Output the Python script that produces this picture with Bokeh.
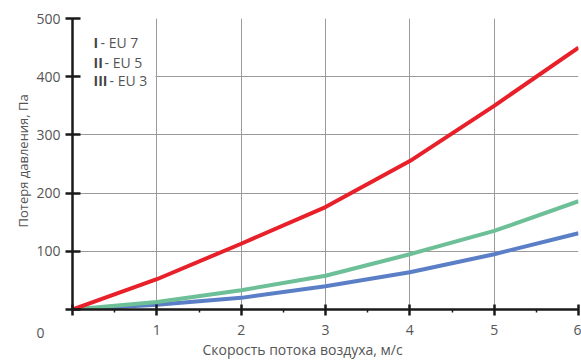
from bokeh.plotting import figure
from bokeh.models import Range1d, Label, BoxAnnotation, FixedTicker, Title
from bokeh.embed import file_html
from bokeh.resources import INLINE

speed = [0, 1, 2, 3, 4, 5, 6]
eu7 = [0, 52, 113, 176, 255, 350, 450]
eu5 = [0, 13, 33, 58, 95, 135, 186]
eu3 = [0, 8, 20, 40, 64, 95, 131]

legend_num = ["I", "II", "III"]
legend_txt = ["- EU 7", "- EU 5", "- EU 3"]
x_ticks = [0, 1, 2, 3, 4, 5, 6]
y_ticks = [0, 100, 200, 300, 400, 500]
origin_label = "0"
x_title = "Скорость потока воздуха, м/с"
y_title = "Потеря давления, Па"

FONT = "Open Sans"
GRAY = "#555555"

p = figure(width=581, height=360, output_backend="svg", toolbar_location=None,
           x_range=Range1d(0, 6), y_range=Range1d(0, 500),
           min_border_left=72, min_border_right=3, min_border_top=18, min_border_bottom=51)
p.outline_line_color = None
p.background_fill_color = "white"

p.xgrid.ticker = FixedTicker(ticks=x_ticks)
p.ygrid.ticker = FixedTicker(ticks=y_ticks)
p.xgrid.grid_line_color = "#9a9a9a"
p.ygrid.grid_line_color = "#9a9a9a"
p.xgrid.grid_line_width = 1
p.ygrid.grid_line_width = 1

for ax in (p.xaxis[0], p.yaxis[0]):
    ax.axis_line_color = "#1a1a1a"
    ax.axis_line_width = 2.5
    ax.major_tick_line_color = "#1a1a1a"
    ax.major_tick_line_width = 2.5
    ax.major_label_text_font = FONT
    ax.major_label_text_font_size = "14px"
    ax.major_label_text_color = GRAY

p.xaxis.ticker = FixedTicker(ticks=x_ticks, minor_ticks=[0.5, 1.5, 2.5, 3.5, 4.5, 5.5])
p.yaxis.ticker = FixedTicker(ticks=y_ticks)
p.xaxis.major_label_overrides = {0: ""}
p.yaxis.major_label_overrides = {0: ""}
p.xaxis.major_tick_in = 5
p.xaxis.major_tick_out = 6
p.xaxis.minor_tick_in = 0
p.xaxis.minor_tick_out = 3
p.xaxis.minor_tick_line_color = "#1a1a1a"
p.xaxis.minor_tick_line_width = 1.5
p.yaxis.major_tick_in = 8
p.yaxis.major_tick_out = 7
p.yaxis.minor_tick_line_color = None
p.xaxis.major_label_standoff = 9
p.yaxis.major_label_standoff = 5

p.add_layout(BoxAnnotation(left=0.02, right=0.985, bottom=330, top=497,
                           fill_color="white", fill_alpha=1.0, line_color=None, level="underlay"))

p.line(speed, eu3, line_color="#5b7fc6", line_width=4, line_join="round")
p.line(speed, eu5, line_color="#6dbf98", line_width=4, line_join="round")
p.line(speed, eu7, line_color="#e8202a", line_width=4, line_join="round")

ys = [458, 425, 393]
offs = [28, 32, 37]
for num, txt, yv, off in zip(legend_num, legend_txt, ys, offs):
    p.add_layout(Label(x=0, y=yv, x_offset=21, text=num, text_font=FONT,
                       text_font_size="14px", text_font_style="bold", text_color="#444444",
                       text_baseline="middle"))
    p.add_layout(Label(x=0, y=yv, x_offset=off, text=txt, text_font=FONT,
                       text_font_size="14px", text_color=GRAY, text_baseline="middle"))

p.add_layout(Title(text=origin_label, align="left", offset=-36, text_font=FONT,
                   text_font_size="14px", text_font_style="normal", text_color=GRAY,
                   standoff=-20, vertical_align="top"), "below")
p.add_layout(Title(text=x_title, align="left", offset=130, text_font=FONT,
                   text_font_size="14px", text_font_style="normal", text_color=GRAY,
                   standoff=0), "below")
p.add_layout(Title(text=y_title, align="left", offset=82, text_font=FONT,
                   text_font_size="13px", text_font_style="normal", text_color=GRAY,
                   standoff=4), "left")

open("out.html", "w").write(file_html(p, INLINE))
